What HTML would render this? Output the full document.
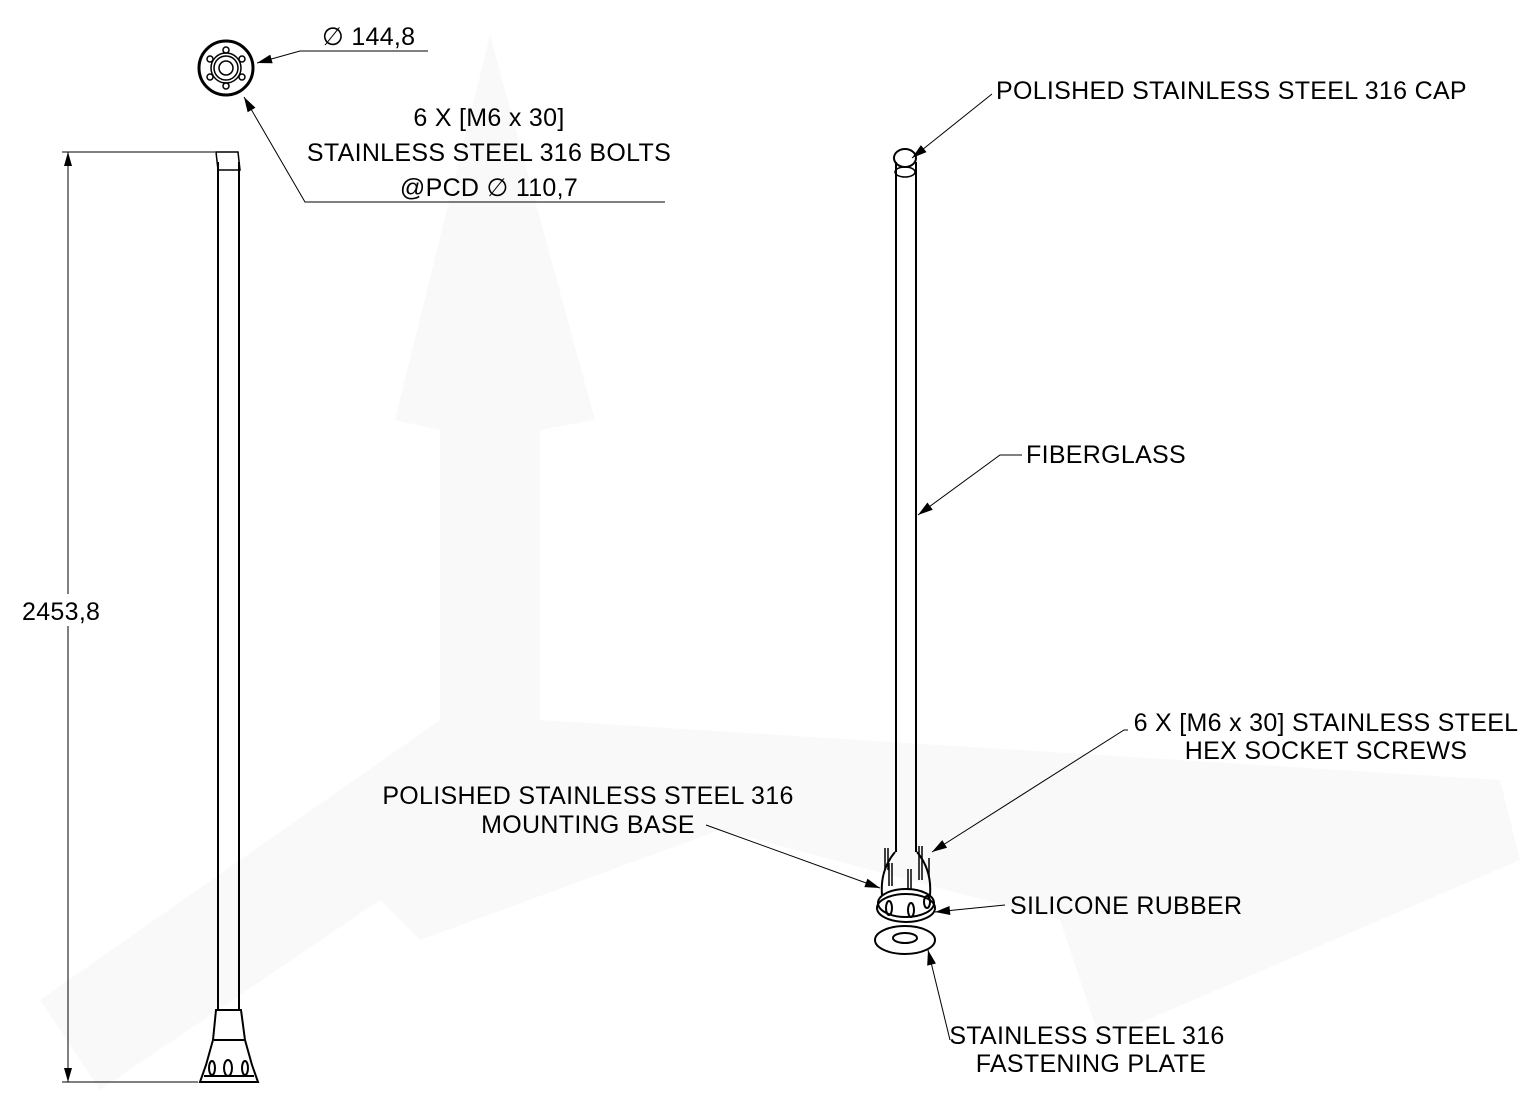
<!DOCTYPE html>
<html><head><style>
body{margin:0;background:#fff;}
svg{display:block}
text{font-family:"Liberation Sans",sans-serif;font-size:25px;letter-spacing:0.3px;fill:#000;}
</style></head><body>
<svg width="1536" height="1108" viewBox="0 0 1536 1108" xmlns="http://www.w3.org/2000/svg">
<defs><marker id="a" viewBox="0 0 10 6" refX="10" refY="3" markerWidth="18" markerHeight="9" orient="auto" markerUnits="userSpaceOnUse"><path d="M0,0 L10,3 L0,6z" fill="#000"/></marker></defs>
<g fill="#f9f9f9">
<path d="M490,35 L595,420 L540,430 L540,720 L1500,780 L1520,860 L1100,1040 L1060,920 L720,830 L420,940 L380,900 L100,1090 L40,1000 L440,720 L440,430 L395,420 Z"/>
</g>
<g fill="none" stroke="#000" stroke-width="1.5">
<circle cx="226" cy="68" r="27" stroke-width="3"/>
<circle cx="226" cy="68" r="15"/>
<circle cx="226" cy="68" r="12"/>
<circle cx="226" cy="68" r="7"/>
<circle cx="226" cy="50" r="3"/><circle cx="226" cy="86" r="3"/>
<circle cx="210" cy="59" r="3"/><circle cx="242" cy="59" r="3"/>
<circle cx="210" cy="77" r="3"/><circle cx="242" cy="77" r="3"/>
</g>
<g stroke="#000" stroke-width="1" fill="none">
<path d="M428,51 L300,51 L257,63" marker-end="url(#a)"/>
<path d="M665,202 L305,202 L244,97" marker-end="url(#a)"/>
</g>
<text x="322" y="45">∅ 144,8</text>
<text x="489" y="126" text-anchor="middle">6 X [M6 x 30]</text>
<text x="489" y="161" text-anchor="middle">STAINLESS STEEL 316 BOLTS</text>
<text x="489" y="196" text-anchor="middle">@PCD ∅ 110,7</text>
<g fill="none" stroke="#000" stroke-width="2">
<path d="M218,162 L218,1010 M239,162 L239,1010"/>
<path d="M216,152 L238,152 L240,170 L218,170 Z" stroke-width="1.5"/>
<path d="M216,1010 L241,1010 L245,1040 L252,1065 L258,1082 L200,1082 L206,1065 L213,1040 Z"/>
<path d="M214,1040 L244,1040 M204,1076 L254,1076"/>
<ellipse cx="228" cy="1068" rx="4" ry="8"/>
<ellipse cx="212" cy="1068" rx="3" ry="7"/><ellipse cx="245" cy="1068" rx="3" ry="7"/>
</g>
<g stroke="#000" stroke-width="1">
<path d="M62,152 L215,152 M62,1082 L198,1082 M68,152 L68,1082"/>
</g>
<path d="M68,152 L64,166 L72,166Z M68,1082 L64,1068 L72,1068Z" fill="#000"/>
<rect x="20" y="594" width="92" height="32" fill="#fff"/>
<text x="22" y="620">2453,8</text>
<g fill="none" stroke="#000" stroke-width="2">
<path d="M896,162 L896,852 M916,162 L916,852"/>
<ellipse cx="905" cy="158" rx="11" ry="9"/>
<ellipse cx="905" cy="172" rx="10" ry="5" stroke-width="1.5"/>
<path d="M895,852 Q880,870 882,895 M917,852 Q932,870 930,895"/>
<ellipse cx="906" cy="903" rx="28" ry="14"/>
<ellipse cx="906" cy="908" rx="29" ry="14"/>
<ellipse cx="889" cy="908" rx="3" ry="7"/><ellipse cx="911" cy="910" rx="3" ry="7"/><ellipse cx="927" cy="902" rx="3" ry="6"/>
<ellipse cx="905" cy="940" rx="30" ry="14"/>
<ellipse cx="905" cy="938" rx="12" ry="5"/>
<path d="M885,848 L885,870 M888,848 L888,870 M919,846 L919,880 M922,846 L922,880 M929,858 L929,876 M908,869 L908,890 M911,869 L911,890 M889,863 L889,886 M892,863 L892,886" stroke-width="1.5"/>
</g>
<g stroke="#000" stroke-width="1" fill="none">
<path d="M992,94 L912,158" marker-end="url(#a)"/>
<path d="M1022,455 L1000,455 L918,515" marker-end="url(#a)"/>
<path d="M1128,730 L1124,730 L932,852" marker-end="url(#a)"/>
<path d="M706,825 L880,888" marker-end="url(#a)"/>
<path d="M1005,905 L935,912" marker-end="url(#a)"/>
<path d="M950,1040 L928,950" marker-end="url(#a)"/>
</g>
<text x="996" y="99">POLISHED STAINLESS STEEL 316 CAP</text>
<text x="1026" y="463">FIBERGLASS</text>
<text x="1326" y="731" text-anchor="middle">6 X [M6 x 30] STAINLESS STEEL</text>
<text x="1326" y="759" text-anchor="middle">HEX SOCKET SCREWS</text>
<text x="588" y="804" text-anchor="middle">POLISHED STAINLESS STEEL 316</text>
<text x="588" y="833" text-anchor="middle">MOUNTING BASE</text>
<text x="1010" y="914">SILICONE RUBBER</text>
<text x="1087" y="1044" text-anchor="middle">STAINLESS STEEL 316</text>
<text x="1091" y="1072" text-anchor="middle">FASTENING PLATE</text>
</svg>
</body></html>
